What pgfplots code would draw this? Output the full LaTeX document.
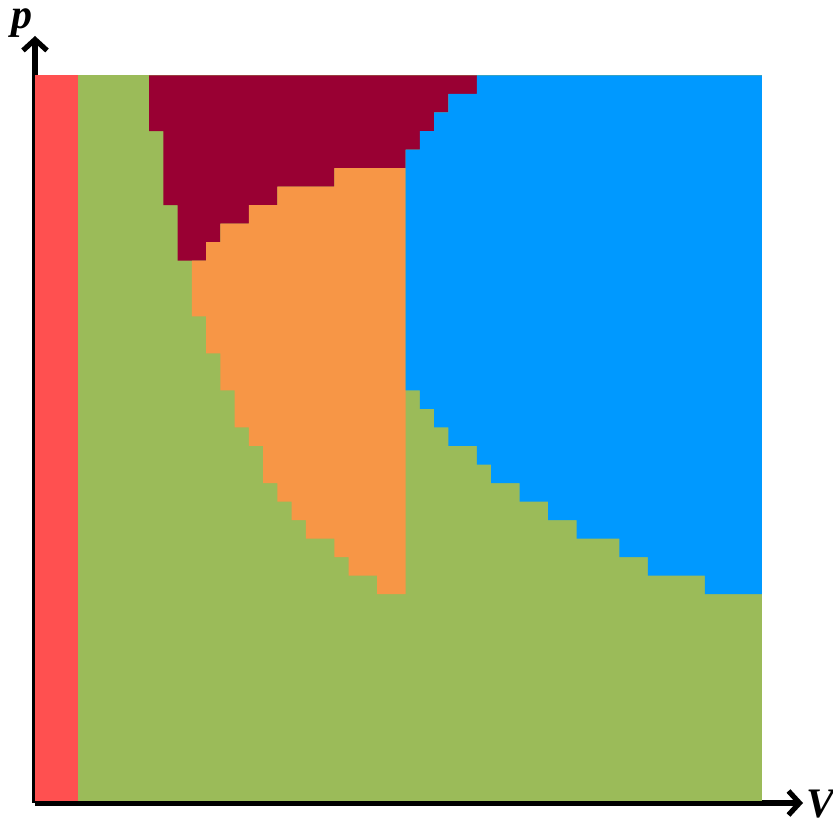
\documentclass[border=0pt]{standalone}
\usepackage{pgfplots}
\pgfplotsset{compat=1.18}
\usepackage{fontspec}
\setmainfont{Liberation Serif}
\usetikzlibrary{arrows.meta}
\definecolor{cred}{HTML}{FF5050}
\definecolor{cgreen}{HTML}{9BBB59}
\definecolor{ccrimson}{HTML}{990033}
\definecolor{corange}{HTML}{F79646}
\definecolor{cblue}{HTML}{0099FF}
\begin{document}
\begin{tikzpicture}
\path[use as bounding box] (0,0) rectangle (416.5pt,408.5pt);
\begin{axis}[at={(17.5pt,7pt)}, anchor=south west, scale only axis,
  width=384pt, height=383.5pt,
  xmin=0, xmax=53.89, ymin=-0.27, ymax=41.13,
  axis lines=left,
  axis line style={line width=2.6pt, -{Straight Barb[length=5.5pt,width=12pt]}},
  xtick=\empty, ytick=\empty, clip=false]
% green background (region 2)
\addplot[fill=cgreen, draw=none] coordinates {(3,-0.16) (51,-0.16) (51,39) (3,39)} -- cycle;
% red strip (region 1)
\addplot[fill=cred, draw=none] coordinates {(0,-0.16) (3,-0.16) (3,39) (0,39)} -- cycle;
% crimson region
\addplot[fill=ccrimson, draw=none] coordinates {
 (8,39) (31,39) (31,38) (29,38) (29,37) (28,37) (28,36) (27,36) (27,35)
 (26,35) (26,34) (21,34) (21,33) (17,33) (17,32) (15,32) (15,31) (13,31)
 (13,30) (12,30) (12,29) (10,29) (10,32) (9,32) (9,36) (8,36)} -- cycle;
% orange region
\addplot[fill=corange, draw=none] coordinates {
 (26,11) (24,11) (24,12) (22,12) (22,13) (21,13) (21,14) (19,14) (19,15)
 (18,15) (18,16) (17,16) (17,17) (16,17) (16,19) (15,19) (15,20) (14,20)
 (14,22) (13,22) (13,24) (12,24) (12,26) (11,26) (11,29) (12,29) (12,30)
 (13,30) (13,31) (15,31) (15,32) (17,32) (17,33) (21,33) (21,34) (26,34)} -- cycle;
% blue region
\addplot[fill=cblue, draw=none] coordinates {
 (31,39) (51,39) (51,11) (47,11) (47,12) (43,12) (43,13) (41,13) (41,14)
 (38,14) (38,15) (36,15) (36,16) (34,16) (34,17) (32,17) (32,18) (31,18)
 (31,19) (29,19) (29,20) (28,20) (28,21) (27,21) (27,22) (26,22) (26,35)
 (27,35) (27,36) (28,36) (28,37) (29,37) (29,38) (31,38)} -- cycle;
\end{axis}
\node[anchor=base, inner sep=0pt, font=\fontsize{21pt}{21pt}\selectfont\bfseries\itshape] at (11pt,394pt) {p};
\node[anchor=base west, inner sep=0pt, font=\fontsize{21pt}{21pt}\selectfont\bfseries\itshape] at (403pt,-0.5pt) {V};
\end{tikzpicture}
\end{document}
